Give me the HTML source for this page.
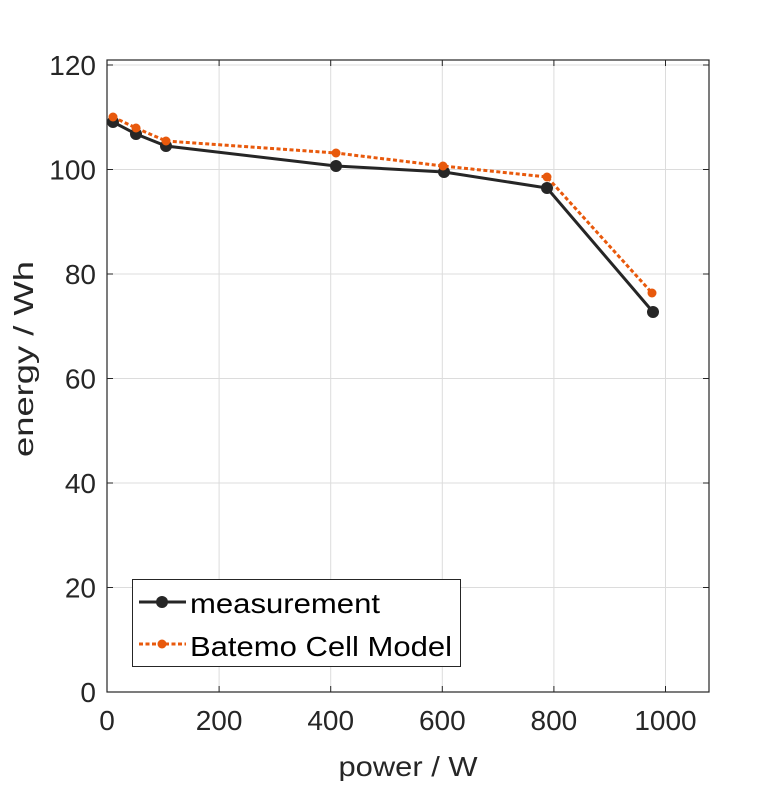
<!DOCTYPE html>
<html><head><style>body{margin:0;background:#fff}svg text{font-family:"Liberation Sans",sans-serif;fill:#262626}</style></head><body>
<svg width="781" height="781" xmlns="http://www.w3.org/2000/svg">
<rect width="781" height="781" fill="#fff"/>
<g stroke="#dcdcdc" stroke-width="1">
<line x1="219.1" y1="60" x2="219.1" y2="692"/><line x1="330.7" y1="60" x2="330.7" y2="692"/><line x1="442.3" y1="60" x2="442.3" y2="692"/><line x1="553.9" y1="60" x2="553.9" y2="692"/><line x1="665.5" y1="60" x2="665.5" y2="692"/>
<line x1="107" y1="587.5" x2="709" y2="587.5"/><line x1="107" y1="483" x2="709" y2="483"/><line x1="107" y1="378.5" x2="709" y2="378.5"/><line x1="107" y1="274" x2="709" y2="274"/><line x1="107" y1="169.5" x2="709" y2="169.5"/><line x1="107" y1="65" x2="709" y2="65"/>
</g>
<rect x="107" y="60" width="602" height="632" fill="none" stroke="#262626" stroke-width="1.2"/>
<g stroke="#262626" stroke-width="1">
<line x1="219.1" y1="692" x2="219.1" y2="686"/><line x1="330.7" y1="692" x2="330.7" y2="686"/><line x1="442.3" y1="692" x2="442.3" y2="686"/><line x1="553.9" y1="692" x2="553.9" y2="686"/><line x1="665.5" y1="692" x2="665.5" y2="686"/>
<line x1="219.1" y1="60" x2="219.1" y2="66"/><line x1="330.7" y1="60" x2="330.7" y2="66"/><line x1="442.3" y1="60" x2="442.3" y2="66"/><line x1="553.9" y1="60" x2="553.9" y2="66"/><line x1="665.5" y1="60" x2="665.5" y2="66"/>
<line x1="107" y1="587.5" x2="113" y2="587.5"/><line x1="107" y1="483" x2="113" y2="483"/><line x1="107" y1="378.5" x2="113" y2="378.5"/><line x1="107" y1="274" x2="113" y2="274"/><line x1="107" y1="169.5" x2="113" y2="169.5"/><line x1="107" y1="65" x2="113" y2="65"/>
<line x1="709" y1="587.5" x2="703" y2="587.5"/><line x1="709" y1="483" x2="703" y2="483"/><line x1="709" y1="378.5" x2="703" y2="378.5"/><line x1="709" y1="274" x2="703" y2="274"/><line x1="709" y1="169.5" x2="703" y2="169.5"/><line x1="709" y1="65" x2="703" y2="65"/>
</g>
<g font-size="28" text-anchor="middle">
<text x="107" y="730">0</text><text x="219.1" y="730">200</text><text x="330.7" y="730">400</text><text x="442.3" y="730">600</text><text x="553.9" y="730">800</text><text x="665.5" y="730">1000</text>
<text x="408" y="776" textLength="139" lengthAdjust="spacingAndGlyphs">power / W</text>
</g>
<g font-size="28" text-anchor="end">
<text x="96" y="702">0</text><text x="96" y="597.5">20</text><text x="96" y="493">40</text><text x="96" y="388.5">60</text><text x="96" y="284">80</text><text x="96" y="179.5">100</text><text x="96" y="75">120</text>
</g>
<text x="0" y="0" font-size="28" text-anchor="middle" textLength="196" lengthAdjust="spacingAndGlyphs" transform="translate(33,359) rotate(-90)">energy / Wh</text>
<polyline points="113,122 136,134 166,146 336,166 444,172 547,188 653,312" fill="none" stroke="#262626" stroke-width="3"/>
<g fill="#262626"><circle cx="113" cy="122" r="6"/><circle cx="136" cy="134" r="6"/><circle cx="166" cy="146" r="6"/><circle cx="336" cy="166" r="6"/><circle cx="444" cy="172" r="6"/><circle cx="547" cy="188" r="6"/><circle cx="653" cy="312" r="6"/></g>
<polyline points="113,117 136,128 166,141 336,153 443,166 547,177 652,293" fill="none" stroke="#e8590c" stroke-width="3" stroke-dasharray="4,2.5"/>
<g fill="#e8590c"><circle cx="113" cy="117" r="4.5"/><circle cx="136" cy="128" r="4.5"/><circle cx="166" cy="141" r="4.5"/><circle cx="336" cy="153" r="4.5"/><circle cx="443" cy="166" r="4.5"/><circle cx="547" cy="177" r="4.5"/><circle cx="652" cy="293" r="4.5"/></g>
<rect x="132.5" y="579.5" width="328" height="87" fill="#fff" stroke="#262626" stroke-width="1"/>
<line x1="139" y1="602" x2="186" y2="602" stroke="#262626" stroke-width="3"/><circle cx="162" cy="602" r="6" fill="#262626"/>
<line x1="139" y1="644" x2="186" y2="644" stroke="#e8590c" stroke-width="3" stroke-dasharray="4,2.5"/><circle cx="162" cy="644" r="4.5" fill="#e8590c"/>
<g font-size="28"><text x="190" y="613" style="fill:#000" textLength="190" lengthAdjust="spacingAndGlyphs">measurement</text><text x="190" y="656" style="fill:#000" textLength="262" lengthAdjust="spacingAndGlyphs">Batemo Cell Model</text></g>
</svg>
</body></html>
